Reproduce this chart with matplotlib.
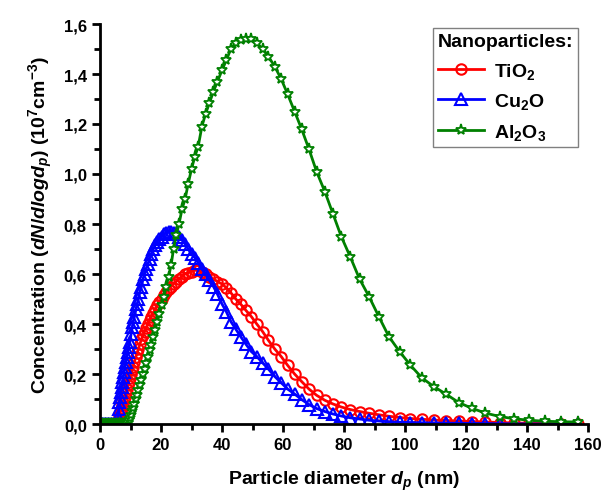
import matplotlib
matplotlib.use("Agg")
import matplotlib.pyplot as plt
from matplotlib.ticker import FuncFormatter, MultipleLocator

### DATA ###

# particle diameter bins (nm)
diameter = [0.5, 1.0, 1.5, 2.0, 2.5, 3.0, 3.5, 4.0, 4.5, 5.0, 5.5,
            5.94, 6.15, 6.38, 6.61, 6.85, 7.10, 7.37, 7.64, 7.91, 8.20,
            8.51, 8.82, 9.14, 9.47, 9.82, 10.2, 10.6, 10.9, 11.3, 11.8,
            12.2, 12.6, 13.1, 13.6, 14.1, 14.6, 15.1, 15.7, 16.3, 16.8,
            17.5, 18.1, 18.8, 19.5, 20.2, 20.9, 21.7, 22.5, 23.3, 24.1,
            25.0, 25.9, 26.9, 27.9, 28.9, 30.0, 31.1, 32.2, 33.4, 34.6,
            35.9, 37.2, 38.5, 40.0, 41.4, 42.9, 44.5, 46.1, 47.8, 49.6,
            51.4, 53.3, 55.2, 57.3, 59.4, 61.5, 63.8, 66.1, 68.5, 71.0,
            73.7, 76.4, 79.1, 82.0, 85.1, 88.2, 91.4, 94.7, 98.2, 101.8,
            105.5, 109.4, 113.4, 117.6, 121.9, 126.3, 131.0, 135.8, 140.7, 145.9,
            151.2, 156.8]

tio2 = [0.0, 0.0, 0.0, 0.0, 0.0, 0.0, 0.0, 0.0, 0.0, 0.0, 0.0,
        0.010, 0.020, 0.035, 0.048, 0.058, 0.066, 0.075, 0.085, 0.097, 0.110,
        0.125, 0.140, 0.155, 0.170, 0.185, 0.200, 0.215, 0.230, 0.250, 0.270,
        0.285, 0.300, 0.320, 0.340, 0.355, 0.370, 0.385, 0.400, 0.415, 0.430,
        0.445, 0.460, 0.475, 0.490, 0.500, 0.515, 0.530, 0.540, 0.550, 0.560,
        0.570, 0.580, 0.590, 0.600, 0.605, 0.610, 0.615, 0.615, 0.610, 0.600,
        0.590, 0.580, 0.570, 0.560, 0.545, 0.525, 0.500, 0.480, 0.455, 0.430,
        0.400, 0.370, 0.335, 0.300, 0.270, 0.235, 0.200, 0.170, 0.140, 0.115,
        0.095, 0.080, 0.068, 0.058, 0.050, 0.043, 0.037, 0.031, 0.026, 0.022,
        0.019, 0.016, 0.014, 0.012, 0.010, 0.008, 0.006, 0.004, 0.003, 0.002,
        0.001, 0.001]

cu2o = [0.0, 0.0, 0.0, 0.0, 0.0, 0.0, 0.0, 0.0, 0.0, 0.0, 0.0,
        0.030, 0.060, 0.090, 0.110, 0.130, 0.150, 0.170, 0.190, 0.210, 0.230,
        0.250, 0.270, 0.290, 0.310, 0.330, 0.360, 0.390, 0.410, 0.430, 0.460,
        0.480, 0.500, 0.530, 0.550, 0.580, 0.600, 0.620, 0.640, 0.660, 0.680,
        0.700, 0.715, 0.730, 0.740, 0.750, 0.760, 0.765, 0.770, 0.770, 0.765,
        0.760, 0.750, 0.735, 0.720, 0.700, 0.680, 0.665, 0.645, 0.620, 0.600,
        0.575, 0.550, 0.520, 0.480, 0.450, 0.410, 0.380, 0.350, 0.320, 0.290,
        0.270, 0.245, 0.220, 0.190, 0.165, 0.140, 0.120, 0.098, 0.078, 0.062,
        0.050, 0.040, 0.032, 0.025, 0.020, 0.015, 0.012, 0.009, 0.007, 0.006,
        0.005, 0.004, 0.003, 0.003, 0.002, 0.002, 0.001, 0.001, 0.0, 0.0,
        0.0, 0.0]

al2o3 = [0.0, 0.0, 0.0, 0.0, 0.0, 0.0, 0.0, 0.0, 0.0, 0.0, 0.0,
         0.0, 0.0, 0.0, 0.0, 0.0, 0.0, 0.0, 0.0, 0.0, 0.0,
         0.001, 0.003, 0.008, 0.015, 0.025, 0.038, 0.052, 0.065, 0.080, 0.100,
         0.118, 0.135, 0.155, 0.178, 0.200, 0.222, 0.245, 0.270, 0.295, 0.318,
         0.350, 0.378, 0.410, 0.440, 0.475, 0.510, 0.550, 0.590, 0.635, 0.700,
         0.755, 0.800, 0.860, 0.900, 0.960, 1.020, 1.070, 1.110, 1.190, 1.240,
         1.285, 1.330, 1.370, 1.415, 1.455, 1.500, 1.525, 1.535, 1.540, 1.540,
         1.525, 1.500, 1.470, 1.430, 1.380, 1.320, 1.250, 1.180, 1.100, 1.010,
         0.930, 0.840, 0.750, 0.670, 0.580, 0.510, 0.430, 0.350, 0.290, 0.235,
         0.185, 0.150, 0.120, 0.086, 0.063, 0.044, 0.030, 0.021, 0.015, 0.011,
         0.009, 0.008]

### STYLE ###
plt.rcParams['font.family'] = 'Liberation Sans'
plt.rcParams['font.weight'] = 'bold'
plt.rcParams['mathtext.fontset'] = 'custom'
plt.rcParams['mathtext.rm'] = 'Liberation Sans:bold'
plt.rcParams['mathtext.it'] = 'Liberation Sans:bold:italic'
plt.rcParams['mathtext.bf'] = 'Liberation Sans:bold'

fig = plt.figure(figsize=(6.14, 5.02), dpi=100)
ax = fig.add_axes([100 / 614, 1 - 425 / 502, 488 / 614, 400 / 502])

ax.plot(diameter, tio2, color='red', lw=2, marker='o', ms=7.5, mfc='none',
        mew=1.5, label='TiO$_2$')
ax.plot(diameter, cu2o, color='blue', lw=2, marker='^', ms=8.5, mfc='none',
        mew=1.5, label='Cu$_2$O')
ax.plot(diameter, al2o3, color='green', lw=2, marker='*', ms=8, mfc='white',
        mew=1.3, label='Al$_2$O$_3$')

ax.set_xlim(0, 160)
ax.set_ylim(0, 1.6)
ax.xaxis.set_major_locator(MultipleLocator(20))
ax.xaxis.set_minor_locator(MultipleLocator(10))
ax.yaxis.set_major_locator(MultipleLocator(0.2))
ax.yaxis.set_minor_locator(MultipleLocator(0.1))
ax.yaxis.set_major_formatter(FuncFormatter(lambda v, p: f'{v:.1f}'.replace('.', ',')))

for side in ['top', 'right']:
    ax.spines[side].set_visible(False)
for side in ['left', 'bottom']:
    ax.spines[side].set_linewidth(2)
ax.tick_params(which='major', length=6, width=2, labelsize=12)
ax.tick_params(which='minor', length=4, width=2)

ax.set_xlabel('Particle diameter $d_p$ (nm)', fontsize=14, fontweight='bold', labelpad=12)
ax.set_ylabel('Concentration ($dN/dlogd_p$) (10$^7$cm$^{-3}$)', fontsize=14,
              fontweight='bold', labelpad=6)

leg = ax.legend(title='Nanoparticles:', loc='upper right',
                bbox_to_anchor=(578 / 614, 1 - 29 / 502), bbox_transform=fig.transFigure,
                fontsize=14, title_fontproperties={'weight': 'bold', 'size': 14},
                fancybox=False, edgecolor='gray', framealpha=1, handlelength=2.4,
                handletextpad=0.5, borderaxespad=0, alignment='left',
                labelspacing=0.55, borderpad=0.25)
leg.get_frame().set_linewidth(1)

fig.savefig('out.png', dpi=100)
